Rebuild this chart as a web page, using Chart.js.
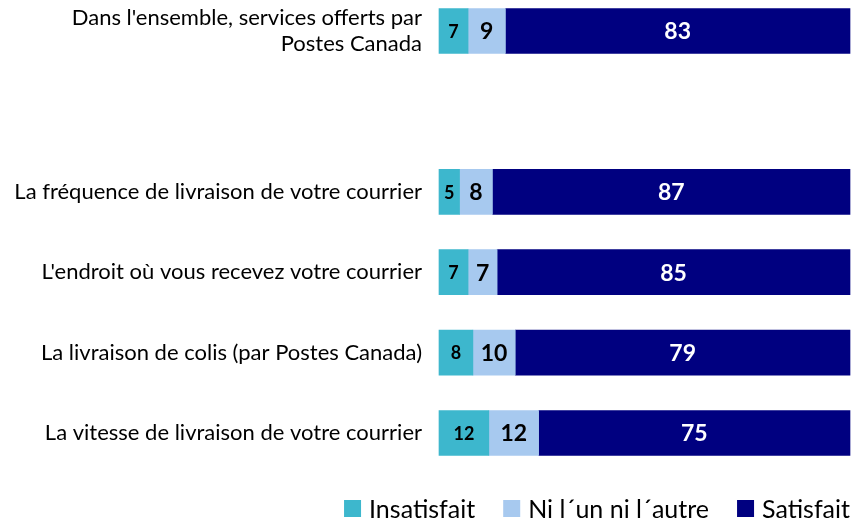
<!DOCTYPE html>
<html>
<head>
<meta charset="utf-8">
<script src="https://cdn.jsdelivr.net/npm/chart.js@4/dist/chart.umd.min.js"></script>
<style>
  html, body { margin: 0; padding: 0; background: #fff; }
  #wrap { width: 856px; height: 519px; position: relative; }
</style>
</head>
<body>
<div id="wrap"><canvas id="chart"></canvas></div>
<script>
// ==========================================
// DATA
// ==========================================
const categories = [
  ["Dans l'ensemble, services offerts par", "Postes Canada"],
  "",
  "La fréquence de livraison de votre courrier",
  "L'endroit où vous recevez votre courrier",
  "La livraison de colis (par Postes Canada)",
  "La vitesse de livraison de votre courrier"
];
const seriesNames = ['Insatisfait', 'Ni l´un ni l´autre', 'Satisfait'];
const insatisfait = [7, null, 5, 7, 8, 12];
const niLunNiLautre = [9, null, 8, 7, 10, 12];
const satisfait = [83, null, 87, 85, 79, 75];

const colors = ['#3db7cd', '#a7c9ef', '#000080'];
const labelColors = ['#000000', '#000000', '#ffffff'];
const labelSizes = [18, 23, 23];

const FONT = 'Lato, "Open Sans", sans-serif';

// barres à 100 % : chaque valeur devient une part du total de la ligne
const raw = [insatisfait, niLunNiLautre, satisfait];
const totals = categories.map((c, i) => raw.reduce((s, arr) => s + (arr[i] || 0), 0));
function toShare(arr) {
  return arr.map((v, i) => (v == null || !totals[i]) ? null : v / totals[i] * 100);
}

// étiquettes de valeurs au centre de chaque segment
const valueLabels = {
  id: 'valueLabels',
  afterDatasetsDraw(chart) {
    const ctx = chart.ctx;
    ctx.save();
    ctx.textAlign = 'center';
    ctx.textBaseline = 'middle';
    chart.data.datasets.forEach((ds, di) => {
      const meta = chart.getDatasetMeta(di);
      meta.data.forEach((bar, i) => {
        const v = raw[di][i];
        if (v == null) return;
        ctx.fillStyle = labelColors[di];
        ctx.font = 'bold ' + labelSizes[di] + 'px ' + FONT;
        ctx.fillText(String(v), (bar.x + bar.base) / 2, bar.y + 1);
      });
    });
    ctx.restore();
  }
};

// légende en bas, alignée à droite
const bottomLegend = {
  id: 'bottomLegend',
  afterDraw(chart) {
    const ctx = chart.ctx;
    const box = 17, gap = 8, spacing = 28;
    const right = chart.chartArea.right;
    const yTop = 500;
    ctx.save();
    ctx.font = '25px ' + FONT;
    ctx.textBaseline = 'middle';
    ctx.textAlign = 'left';
    const items = chart.data.datasets.map(ds => ({
      text: ds.label, color: ds.backgroundColor, w: ctx.measureText(ds.label).width
    }));
    const total = items.reduce((s, it) => s + box + gap + it.w, 0) + spacing * (items.length - 1);
    let x = right - total;
    items.forEach(it => {
      ctx.fillStyle = it.color;
      ctx.fillRect(x, yTop, box, box);
      ctx.fillStyle = '#000';
      ctx.fillText(it.text, x + box + gap, yTop + box / 2 + 1);
      x += box + gap + it.w + spacing;
    });
    ctx.restore();
  }
};

new Chart(document.getElementById('chart'), {
  type: 'bar',
  data: {
    labels: categories,
    datasets: raw.map((arr, i) => ({
      label: seriesNames[i],
      data: toShare(arr),
      backgroundColor: colors[i],
      borderWidth: 0,
      barThickness: 45,
      clip: false
    }))
  },
  options: {
    indexAxis: 'y',
    responsive: true,
    maintainAspectRatio: false,
    animation: false,
    layout: { padding: { top: 31, right: 6, bottom: 86, left: 0 } },
    plugins: {
      legend: { display: false },
      tooltip: { enabled: false }
    },
    scales: {
      x: {
        stacked: true,
        display: false,
        min: 0,
        max: 100
      },
      y: {
        stacked: true,
        offset: false,
        grid: { display: false, drawTicks: false },
        border: { display: false },
        ticks: {
          color: '#000',
          padding: 17,
          font: { family: FONT, size: 22, lineHeight: 1.15 }
        },
        afterFit(scale) { scale.width = 439; }
      }
    }
  },
  plugins: [valueLabels, bottomLegend]
});
</script>
</body>
</html>
